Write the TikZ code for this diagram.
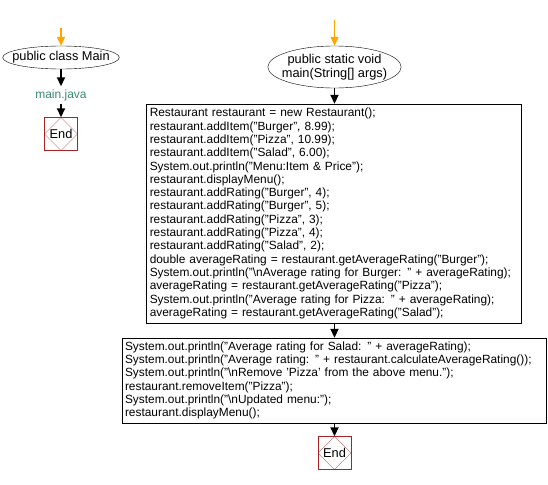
\documentclass[tikz,border=0pt]{standalone}
\usepackage{fontspec}
\setmainfont{Liberation Sans}
\usetikzlibrary{shapes.geometric,arrows.meta}
\definecolor{entryorange}{RGB}{255,165,0}
\definecolor{filegreen}{RGB}{58,138,108}
\definecolor{endred}{RGB}{170,34,34}
\tikzset{
	startnode/.style={draw=black, thin, ellipse, inner sep=0pt, align=center, font=\fontsize{12.8}{13.5}\selectfont},
	codebox/.style={draw=black, thin, rectangle, inner sep=3pt, align=left, font=\fontsize{11.9}{13.3}\selectfont},
	endnode/.style={draw=endred, thin, rectangle, minimum size=33pt, inner sep=0pt, font=\fontsize{12.8}{13}\selectfont,
		path picture={\draw[endred, very thin] (path picture bounding box.north) -- (path picture bounding box.east) -- (path picture bounding box.south) -- (path picture bounding box.west) -- cycle;}},
	flow/.style={draw=black, line width=1.8pt, -{Triangle[width=8pt,length=9pt]}},
	entry/.style={draw=entryorange, line width=1.4pt, -{Triangle[width=8pt,length=9pt]}}
}
\begin{document}
\begin{tikzpicture}[x=1pt, y=-1pt]
	\useasboundingbox (0,0) rectangle (548,484);
	% class Main
	\coordinate (mainin) at (61,28);
	\node[startnode, inner xsep=-7.5pt, minimum width=111pt, minimum height=23pt] (classmain) at (61,57.5) {public class Main};
	\node[text=filegreen, inner sep=0pt, minimum height=17pt, font=\fontsize{12}{13}\selectfont] (mainjava) at (61,95) {main.java};
	\node[endnode] (endone) at (61,134) {End};
	\draw[entry] (mainin) -- (classmain.north);
	\draw[flow] (classmain.south) -- (mainjava.north);
	\draw[flow] (mainjava.south) -- (endone.north);
	% method main
	\coordinate (methin) at (334.5,20);
	\node[startnode, inner xsep=-5.5pt, minimum width=123pt, minimum height=42pt] (mainmeth) at (334.5,67) {public static void\\main(String[] args)};
	\node[codebox, minimum width=374.5pt, minimum height=219pt, text width=368pt] (codeone) at (333.75,213.5) {Restaurant restaurant = new Restaurant();\\
restaurant.addItem("Burger", 8.99);\\
restaurant.addItem("Pizza", 10.99);\\
restaurant.addItem("Salad", 6.00);\\
System.out.println("Menu:Item \& Price");\\
restaurant.displayMenu();\\
restaurant.addRating("Burger", 4);\\
restaurant.addRating("Burger", 5);\\
restaurant.addRating("Pizza", 3);\\
restaurant.addRating("Pizza", 4);\\
restaurant.addRating("Salad", 2);\\
double averageRating = restaurant.getAverageRating("Burger");\\
System.out.println("\textbackslash nAverage rating for Burger: " + averageRating);\\
averageRating = restaurant.getAverageRating("Pizza");\\
System.out.println("Average rating for Pizza: " + averageRating);\\
averageRating = restaurant.getAverageRating("Salad");};
	\node[codebox, minimum width=424pt, minimum height=85pt, text width=418pt] (codetwo) at (334,380.5) {System.out.println("Average rating for Salad: " + averageRating);\\
System.out.println("Average rating: " + restaurant.calculateAverageRating());\\
System.out.println("\textbackslash nRemove 'Pizza' from the above menu.");\\
restaurant.removeItem("Pizza");\\
System.out.println("\textbackslash nUpdated menu:");\\
restaurant.displayMenu();};
	\node[endnode] (endtwo) at (334.5,453) {End};
	\draw[entry] (methin) -- (mainmeth.north);
	\draw[flow] (mainmeth.south) -- (mainmeth.south |- codeone.north);
	\draw[flow] (mainmeth.south |- codeone.south) -- (mainmeth.south |- codetwo.north);
	\draw[flow] (endtwo.north |- codetwo.south) -- (endtwo.north);
\end{tikzpicture}
\end{document}
